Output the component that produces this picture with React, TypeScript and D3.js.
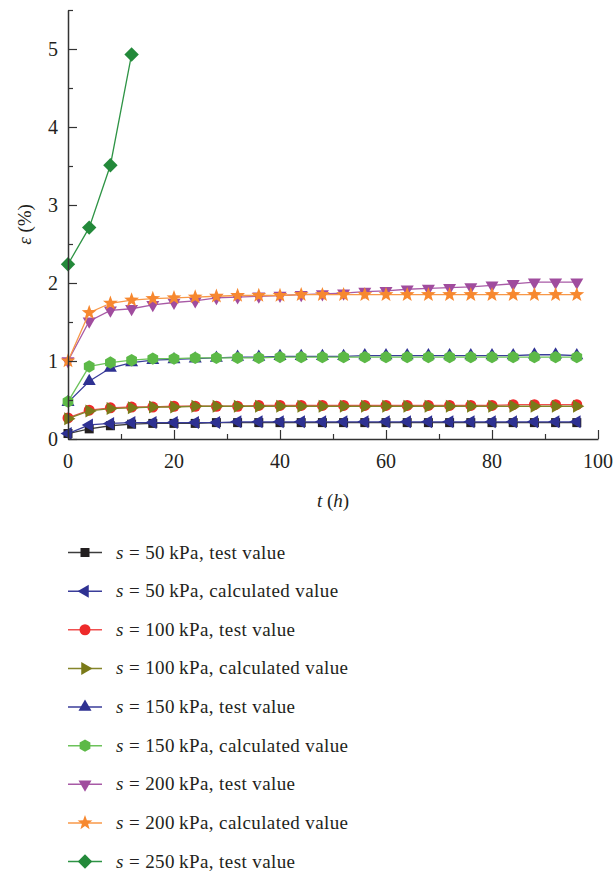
import React, { useEffect, useRef } from "react";
import * as d3 from "d3";

const tHours = [0, 4, 8, 12, 16, 20, 24, 28, 32, 36, 40, 44, 48, 52, 56, 60, 64, 68, 72, 76, 80, 84, 88, 92, 96];
const tHours250 = [0, 4, 8, 12];

const s50Test = [0.07, 0.13, 0.17, 0.19, 0.2, 0.2, 0.2, 0.21, 0.21, 0.21, 0.21, 0.21, 0.21, 0.21, 0.21, 0.21, 0.21, 0.21, 0.21, 0.21, 0.21, 0.21, 0.21, 0.21, 0.21];
const s50Calc = [0.07, 0.18, 0.2, 0.21, 0.21, 0.21, 0.21, 0.21, 0.22, 0.22, 0.22, 0.22, 0.22, 0.22, 0.22, 0.22, 0.22, 0.22, 0.22, 0.22, 0.22, 0.22, 0.22, 0.22, 0.22];
const s100Test = [0.27, 0.37, 0.4, 0.41, 0.41, 0.42, 0.42, 0.42, 0.42, 0.43, 0.43, 0.43, 0.43, 0.43, 0.43, 0.43, 0.43, 0.43, 0.43, 0.43, 0.43, 0.44, 0.44, 0.44, 0.44];
const s100Calc = [0.26, 0.36, 0.39, 0.4, 0.41, 0.41, 0.42, 0.42, 0.42, 0.42, 0.42, 0.42, 0.42, 0.42, 0.42, 0.42, 0.42, 0.42, 0.42, 0.42, 0.42, 0.42, 0.42, 0.42, 0.42];
const s150Test = [0.47, 0.74, 0.91, 0.98, 1.01, 1.02, 1.03, 1.04, 1.05, 1.05, 1.06, 1.06, 1.06, 1.06, 1.07, 1.07, 1.07, 1.07, 1.07, 1.07, 1.07, 1.07, 1.08, 1.08, 1.07];
const s150Calc = [0.48, 0.93, 0.98, 1.01, 1.03, 1.03, 1.04, 1.04, 1.04, 1.04, 1.05, 1.05, 1.05, 1.05, 1.05, 1.05, 1.05, 1.05, 1.05, 1.05, 1.05, 1.05, 1.05, 1.05, 1.05];
const s200Test = [1.0, 1.51, 1.65, 1.67, 1.72, 1.75, 1.77, 1.81, 1.82, 1.83, 1.84, 1.85, 1.86, 1.87, 1.89, 1.9, 1.92, 1.93, 1.94, 1.95, 1.97, 1.99, 2.01, 2.01, 2.01];
const s200Calc = [1.0, 1.62, 1.74, 1.78, 1.8, 1.81, 1.82, 1.83, 1.84, 1.84, 1.84, 1.85, 1.85, 1.85, 1.85, 1.85, 1.85, 1.85, 1.85, 1.85, 1.85, 1.85, 1.85, 1.85, 1.85];
const s250Test = [2.24, 2.71, 3.51, 4.93];

const legendPressure = ["50", "50", "100", "100", "150", "150", "200", "200", "250"];
const legendKind = ["test value", "calculated value", "test value", "calculated value", "test value", "calculated value", "test value", "calculated value", "test value"];

const xTicks = [0, 20, 40, 60, 80, 100];
const yTicks = [0, 1, 2, 3, 4, 5];

type Shape = "square" | "triLeft" | "circle" | "triRight" | "triUp" | "hexagon" | "triDown" | "star" | "diamond";

interface Series {
  xs: number[];
  ys: number[];
  shape: Shape;
  fill: string;
  line: string;
}

const seriesList: Series[] = [
  { xs: tHours, ys: s50Test, shape: "square", fill: "#231f20", line: "#3c3c3c" },
  { xs: tHours, ys: s50Calc, shape: "triLeft", fill: "#2e3192", line: "#3a3d9a" },
  { xs: tHours, ys: s100Test, shape: "circle", fill: "#ee2a2a", line: "#f05050" },
  { xs: tHours, ys: s100Calc, shape: "triRight", fill: "#7a7a18", line: "#85852a" },
  { xs: tHours, ys: s150Test, shape: "triUp", fill: "#2e3192", line: "#3a3d9a" },
  { xs: tHours, ys: s150Calc, shape: "hexagon", fill: "#5cb947", line: "#6cc25a" },
  { xs: tHours, ys: s200Test, shape: "triDown", fill: "#a04c9e", line: "#a85aa6" },
  { xs: tHours, ys: s200Calc, shape: "star", fill: "#f7882f", line: "#f89848" },
  { xs: tHours250, ys: s250Test, shape: "diamond", fill: "#23893a", line: "#2e9445" },
];

function polygon(pts: [number, number][]): string {
  return "M" + pts.map((p) => p[0].toFixed(2) + "," + p[1].toFixed(2)).join("L") + "Z";
}

function markerPath(shape: Shape): string {
  const tri = (rot: number, r: number) => {
    const pts: [number, number][] = [];
    for (let i = 0; i < 3; i++) {
      const a = rot + (i * 2 * Math.PI) / 3;
      pts.push([r * Math.sin(a), -r * Math.cos(a)]);
    }
    return polygon(pts);
  };
  switch (shape) {
    case "square":
      return polygon([[-4.5, -4.5], [4.5, -4.5], [4.5, 4.5], [-4.5, 4.5]]);
    case "triUp":
      return tri(0, 7.5);
    case "triDown":
      return tri(Math.PI, 7.5);
    case "triLeft":
      return tri(-Math.PI / 2, 7.5);
    case "triRight":
      return tri(Math.PI / 2, 7.5);
    case "circle": {
      const r = 5.5;
      return `M${-r},0A${r},${r} 0 1,0 ${r},0A${r},${r} 0 1,0 ${-r},0Z`;
    }
    case "hexagon": {
      const pts: [number, number][] = [];
      for (let i = 0; i < 6; i++) {
        const a = (i * Math.PI) / 3;
        pts.push([6.2 * Math.sin(a), -6.2 * Math.cos(a)]);
      }
      return polygon(pts);
    }
    case "star": {
      const pts: [number, number][] = [];
      for (let i = 0; i < 10; i++) {
        const a = (i * Math.PI) / 5;
        const r = i % 2 === 0 ? 7.8 : 3.2;
        pts.push([r * Math.sin(a), -r * Math.cos(a)]);
      }
      return polygon(pts);
    }
    case "diamond":
      return polygon([[0, -7.2], [7.2, 0], [0, 7.2], [-7.2, 0]]);
  }
}

const W = 613;
const H = 872;
const plot = { left: 68, right: 598, top: 10, bottom: 439 };
const FONT = "'Liberation Serif', 'Times New Roman', serif";
const AXIS = "#333333";

export default function App() {
  const ref = useRef<SVGSVGElement | null>(null);

  useEffect(() => {
    const svg = d3.select(ref.current);
    svg.selectAll("*").remove();

    const x = d3.scaleLinear().domain([0, 100]).range([plot.left, plot.right]);
    const y = d3.scaleLinear().domain([0, 5.5]).range([plot.bottom, plot.top]);

    const g = svg.append("g");

    // Series lines and markers
    const line = d3
      .line<[number, number]>()
      .x((d) => x(d[0]))
      .y((d) => y(d[1]));

    seriesList.forEach((s) => {
      const pts: [number, number][] = s.xs.map((t, i) => [t, s.ys[i]]);
      g.append("path")
        .attr("d", line(pts) as string)
        .attr("fill", "none")
        .attr("stroke", s.line)
        .attr("stroke-width", 1.3);
      g.selectAll(null)
        .data(pts)
        .enter()
        .append("path")
        .attr("d", markerPath(s.shape))
        .attr("transform", (d) => `translate(${x(d[0])},${y(d[1])})`)
        .attr("fill", s.fill);
    });

    // Axes
    const xAxis = d3
      .axisBottom(x)
      .tickValues(d3.range(0, 101, 10))
      .tickSizeInner(-9)
      .tickSizeOuter(0)
      .tickFormat(() => "");
    const xg = svg.append("g").attr("transform", `translate(0,${plot.bottom})`).call(xAxis);
    xg.select(".domain").attr("stroke", AXIS).attr("stroke-width", 1.5);
    xg.selectAll(".tick line")
      .attr("stroke", AXIS)
      .attr("stroke-width", 1.2)
      .attr("y2", (d: any) => ((d as number) % 20 === 0 ? -9 : -5));

    const yAxis = d3
      .axisLeft(y)
      .tickValues(d3.range(0, 5.51, 0.5))
      .tickSizeInner(-9)
      .tickSizeOuter(0)
      .tickFormat(() => "");
    const yg = svg.append("g").attr("transform", `translate(${plot.left},0)`).call(yAxis);
    yg.select(".domain").attr("stroke", AXIS).attr("stroke-width", 1.5);
    yg.selectAll(".tick line")
      .attr("stroke", AXIS)
      .attr("stroke-width", 1.2)
      .attr("x2", (d: any) => (Math.abs((d as number) - Math.round(d as number)) < 1e-6 ? 9 : 5));

    // Tick labels
    svg
      .append("g")
      .selectAll("text")
      .data(xTicks)
      .enter()
      .append("text")
      .attr("x", (d) => x(d))
      .attr("y", plot.bottom + 29)
      .attr("text-anchor", "middle")
      .attr("font-family", FONT)
      .attr("font-size", 20)
      .attr("fill", "#231f20")
      .text((d) => String(d));

    svg
      .append("g")
      .selectAll("text")
      .data(yTicks)
      .enter()
      .append("text")
      .attr("x", plot.left - 10)
      .attr("y", (d) => y(d) + 7)
      .attr("text-anchor", "end")
      .attr("font-family", FONT)
      .attr("font-size", 20)
      .attr("fill", "#231f20")
      .text((d) => String(d));

    // Axis titles
    const xt = svg
      .append("text")
      .attr("x", (plot.left + plot.right) / 2)
      .attr("y", 507)
      .attr("text-anchor", "middle")
      .attr("font-family", FONT)
      .attr("font-size", 19)
      .attr("fill", "#231f20");
    xt.append("tspan").attr("font-style", "italic").text("t");
    xt.append("tspan").text(" (");
    xt.append("tspan").attr("font-style", "italic").text("h");
    xt.append("tspan").text(")");

    const yt = svg
      .append("text")
      .attr("transform", `translate(31,${(plot.top + plot.bottom) / 2}) rotate(-90)`)
      .attr("text-anchor", "middle")
      .attr("font-family", FONT)
      .attr("font-size", 19)
      .attr("fill", "#231f20");
    yt.append("tspan").attr("font-style", "italic").text("ε");
    yt.append("tspan").text(" (%)");

    // Legend
    const legendY = d3.scaleLinear().domain([0, 8]).range([552.5, 861.5]);
    seriesList.forEach((s, i) => {
      const ly = legendY(i);
      const lg = svg.append("g");
      lg.append("line")
        .attr("x1", 68)
        .attr("x2", 102)
        .attr("y1", ly)
        .attr("y2", ly)
        .attr("stroke", s.line)
        .attr("stroke-width", 1.5);
      lg.append("path")
        .attr("d", markerPath(s.shape))
        .attr("transform", `translate(85,${ly})`)
        .attr("fill", s.fill);
      const txt = lg
        .append("text")
        .attr("x", 116)
        .attr("y", ly + 6)
        .attr("font-family", FONT)
        .attr("font-size", 19)
        .attr("letter-spacing", 0.4)
        .attr("fill", "#231f20");
      txt.append("tspan").attr("font-style", "italic").text("s");
      txt.append("tspan").text(` = ${legendPressure[i]}\u2009kPa, ${legendKind[i]}`);
    });
  }, []);

  return (
    <svg
      ref={ref}
      width={W}
      height={H}
      style={{ position: "absolute", left: 0, top: 0, background: "#ffffff" }}
    />
  );
}
